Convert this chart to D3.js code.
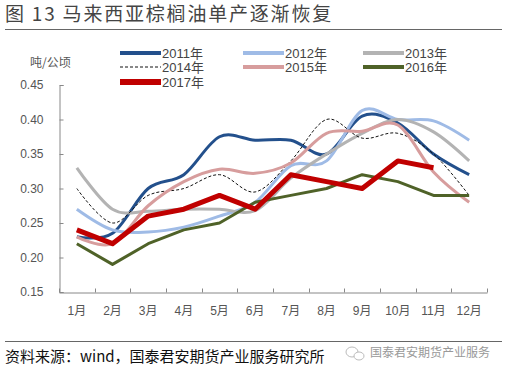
<!DOCTYPE html>
<html>
<head>
<meta charset="utf-8">
<script src="https://cdn.jsdelivr.net/npm/d3@7"></script>
<style>
  body { margin: 0; background: #fff; }
  svg { display: block; font-family: "Liberation Sans", "Noto Sans CJK SC", sans-serif; }
</style>
</head>
<body>
<div class="chart"></div>
<script>
// #region Data
const months = ["1月", "2月", "3月", "4月", "5月", "6月", "7月", "8月", "9月", "10月", "11月", "12月"];
const yTicks = [0.15, 0.20, 0.25, 0.30, 0.35, 0.40, 0.45];
const years = ["2011年", "2012年", "2013年", "2014年", "2015年", "2016年", "2017年"];

const y2011 = [0.23, 0.235, 0.30, 0.32, 0.375, 0.37, 0.37, 0.35, 0.405, 0.395, 0.35, 0.32];
const y2012 = [0.27, 0.24, 0.237, 0.244, 0.26, 0.28, 0.333, 0.34, 0.413, 0.40, 0.398, 0.37];
const y2013 = [0.33, 0.27, 0.267, 0.27, 0.27, 0.268, 0.315, 0.35, 0.38, 0.40, 0.382, 0.34];
const y2014 = [0.30, 0.25, 0.29, 0.30, 0.32, 0.295, 0.34, 0.40, 0.373, 0.38, 0.35, 0.29];
const y2015 = [0.23, 0.22, 0.275, 0.31, 0.328, 0.322, 0.337, 0.38, 0.383, 0.392, 0.324, 0.28];
const y2016 = [0.22, 0.19, 0.22, 0.24, 0.25, 0.28, 0.29, 0.30, 0.32, 0.31, 0.29, 0.29];
const y2017 = [0.24, 0.22, 0.26, 0.27, 0.29, 0.27, 0.32, 0.31, 0.30, 0.34, 0.33];
// #endregion

// styles per series, same order as years
const seriesValues = [y2011, y2012, y2013, y2014, y2015, y2016, y2017];
const seriesStyle = [
    { color: "#23508c", width: 3, smooth: true },
    { color: "#9fbbe6", width: 3, smooth: true },
    { color: "#b3b3b3", width: 3, smooth: true },
    { color: "#111111", width: 1, smooth: true, dash: "3,2" },
    { color: "#d79d9d", width: 3, smooth: true },
    { color: "#4f6228", width: 3, smooth: false },
    { color: "#c00000", width: 5, smooth: false }
];

const width = 506, height = 372;
const svg = d3.select(".chart").append("svg")
    .attr("width", width)
    .attr("height", height);

// #region Title + rules
svg.append("text")
    .attr("x", 5).attr("y", 21)
    .attr("font-family", "Noto Sans CJK SC")
    .attr("font-size", 19)
    .attr("letter-spacing", 1.8)
    .attr("fill", "#444")
    .text("图 13 马来西亚棕榈油单产逐渐恢复");
svg.append("line")
    .attr("x1", 5).attr("x2", 502).attr("y1", 29.5).attr("y2", 29.5)
    .attr("stroke", "#666").attr("stroke-width", 1);
svg.append("line")
    .attr("x1", 5).attr("x2", 502).attr("y1", 341.5).attr("y2", 341.5)
    .attr("stroke", "#666").attr("stroke-width", 1);
// #endregion

// #region Scales + axes
const x = d3.scaleBand().domain(months).range([59, 487]);
const y = d3.scaleLinear().domain([0.15, 0.45]).range([292, 85]);

const gY = svg.append("g")
    .attr("transform", "translate(59.5,0)")
    .call(d3.axisLeft(y).tickValues(yTicks).tickFormat(d3.format(".2f")).tickSize(-4).tickPadding(16));
gY.select(".domain").attr("stroke", "#888");
gY.selectAll(".tick line").attr("stroke", "#888");
gY.selectAll("text").attr("font-size", 12).attr("fill", "#555");

const gX = svg.append("g")
    .attr("transform", "translate(0,292.5)")
    .call(d3.axisBottom(x).tickSize(0).tickPadding(14));
gX.select(".domain").attr("stroke", "#888");
gX.selectAll("text").attr("font-size", 12).attr("fill", "#555")
    .attr("font-family", "Liberation Sans, Noto Sans CJK SC");

// boundary ticks between months, pointing up
const edges = months.map(m => x(m)).concat([x.range()[1]]);
gX.selectAll(".edge")
    .data(edges)
    .enter()
    .append("line")
    .attr("x1", d => Math.round(d) + 0.5)
    .attr("x2", d => Math.round(d) + 0.5)
    .attr("y1", 0).attr("y2", -4)
    .attr("stroke", "#888");

svg.append("text")
    .attr("x", 30).attr("y", 67)
    .attr("font-family", "Noto Sans CJK SC")
    .attr("font-size", 12)
    .attr("fill", "#555")
    .text("吨/公顷");
// #endregion

// #region Lines
const cx = (d, i) => x(months[i]) + x.bandwidth() / 2;
seriesValues.forEach((vals, k) => {
    let st = seriesStyle[k];
    let line = d3.line()
        .x(cx)
        .y(d => y(d))
        .curve(st.smooth ? d3.curveCatmullRom.alpha(0) : d3.curveLinear);
    svg.append("path")
        .datum(vals)
        .attr("class", "series s" + k)
        .attr("d", line)
        .attr("fill", "none")
        .attr("stroke", st.color)
        .attr("stroke-width", st.width)
        .attr("stroke-linejoin", "round")
        .attr("stroke-dasharray", st.dash || null);
});
// #endregion

// #region Legend
const legCols = [120, 243, 363];
const legRows = [53, 67, 82];
const gLegend = svg.append("g").attr("class", "legend");
years.forEach((name, i) => {
    let lx = legCols[i % 3], ly = legRows[Math.floor(i / 3)];
    let st = seriesStyle[i];
    gLegend.append("line")
        .attr("x1", lx).attr("x2", lx + 41)
        .attr("y1", ly).attr("y2", ly)
        .attr("stroke", st.color)
        .attr("stroke-width", st.width === 1 ? 1 : st.width + 1)
        .attr("stroke-dasharray", st.dash || null);
    gLegend.append("text")
        .attr("x", lx + 42).attr("y", ly + 5)
        .attr("font-size", 13)
        .attr("fill", "#444")
        .text(name);
});
// #endregion

// #region Footer
svg.append("text")
    .attr("x", 5).attr("y", 362)
    .attr("font-family", "Noto Sans CJK SC")
    .attr("font-size", 15)
    .attr("fill", "#111")
    .text("资料来源：wind，国泰君安期货产业服务研究所");

const gMark = svg.append("g").attr("transform", "translate(352,352)").attr("fill", "none").attr("stroke", "#bbb");
gMark.append("ellipse").attr("cx", 0).attr("cy", 0).attr("rx", 6).attr("ry", 5);
gMark.append("ellipse").attr("cx", 7).attr("cy", 4).attr("rx", 5).attr("ry", 4).attr("fill", "#fff");
svg.append("text")
    .attr("x", 370).attr("y", 357)
    .attr("font-family", "Noto Sans CJK SC")
    .attr("font-size", 12)
    .attr("fill", "#999")
    .text("国泰君安期货产业服务");
// #endregion
</script>
</body>
</html>
